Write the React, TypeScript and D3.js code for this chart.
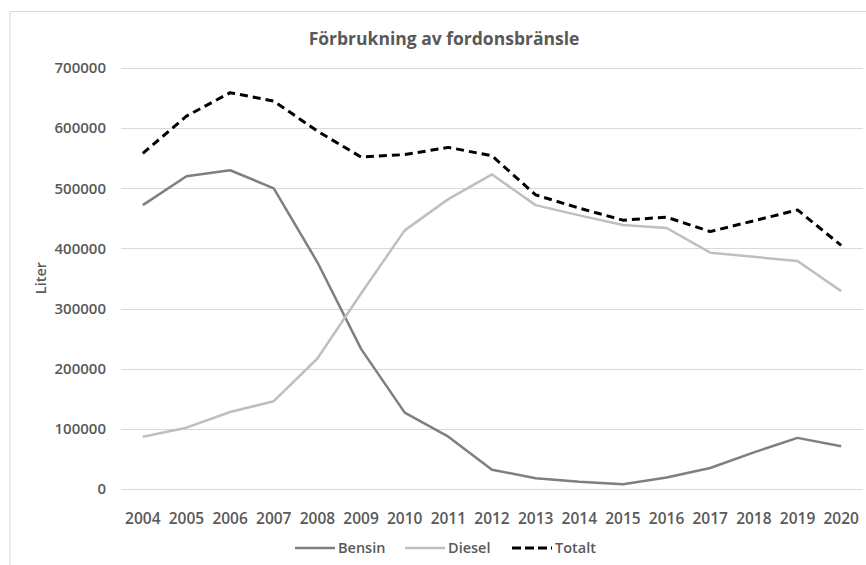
import React from 'react';
import * as d3 from 'd3';

const years = ['2004', '2005', '2006', '2007', '2008', '2009', '2010', '2011', '2012', '2013', '2014', '2015', '2016', '2017', '2018', '2019', '2020'];
const bensin = [472000, 520000, 530000, 500000, 377000, 233000, 127000, 87000, 32000, 18000, 12000, 8000, 19000, 35000, 61000, 85000, 71000];
const diesel = [87000, 102000, 128000, 146000, 217000, 325000, 430000, 482000, 523000, 472000, 455000, 439000, 434000, 393000, 386000, 379000, 329000];
const totalt = [558000, 620000, 659000, 645000, 595000, 552000, 556000, 568000, 554000, 489000, 467000, 447000, 452000, 428000, 446000, 464000, 405000];
const yTicks = [0, 100000, 200000, 300000, 400000, 500000, 600000, 700000];

const W = 866;
const H = 565;
const FONT = '"Open Sans", sans-serif';
const TEXT = '#595959';

const series = [
  { name: 'Bensin', values: bensin, color: '#7f7f7f', width: 2.5, dash: null },
  { name: 'Diesel', values: diesel, color: '#bfbfbf', width: 2.5, dash: null },
  { name: 'Totalt', values: totalt, color: '#000000', width: 3, dash: '8,5' },
];

export default function App() {
  const x = d3.scalePoint<string>().domain(years).range([121, 863]).padding(0.5);
  const y = d3.scaleLinear().domain([0, 700000]).range([489, 68]);

  const line = (vals: number[]) =>
    d3.line<number>()
      .x((_, i) => x(years[i]) as number)
      .y((d) => y(d))(vals) as string;

  const legendItems = [
    { s: series[0], x: 295 },
    { s: series[1], x: 405 },
    { s: series[2], x: 512 },
  ];

  return (
    <svg width={W} height={H} style={{ position: 'absolute', left: 0, top: 0, background: '#fff' }}>
      <rect x={0} y={0} width={W} height={H} fill="#fff" />
      {/* chart frame */}
      <path d={`M10,${H + 2}V11.5H${W + 2}`} fill="none" stroke="#d9d9d9" strokeWidth={1} />

      <text x={444} y={45} textAnchor="middle" fontFamily={FONT} fontWeight={700} fontSize={17.5} fill={TEXT}>
        Förbrukning av fordonsbränsle
      </text>

      {yTicks.map((t) => (
        <g key={t}>
          <line x1={121} x2={863} y1={Math.round(y(t)) + 0.5} y2={Math.round(y(t)) + 0.5} stroke="#d9d9d9" strokeWidth={1} />
          <text x={106} y={y(t)} dy="0.35em" textAnchor="end" fontFamily={FONT} fontWeight={600} fontSize={15} fill={TEXT}>
            {t}
          </text>
        </g>
      ))}

      <text transform="translate(46,278) rotate(-90)" textAnchor="middle" fontFamily={FONT} fontWeight={600} fontSize={14.5} fill={TEXT}>
        Liter
      </text>

      {years.map((yr) => (
        <text key={yr} x={x(yr)} y={519} dy="0.35em" textAnchor="middle" fontFamily={FONT} fontWeight={600} fontSize={15.5} fill={TEXT}>
          {yr}
        </text>
      ))}

      {series.map((s) => (
        <path
          key={s.name}
          d={line(s.values)}
          fill="none"
          stroke={s.color}
          strokeWidth={s.width}
          strokeDasharray={s.dash ?? undefined}
          strokeLinejoin="round"
        />
      ))}

      {legendItems.map(({ s, x: lx }) => (
        <g key={s.name}>
          <line x1={lx} x2={lx + 40} y1={548} y2={548} stroke={s.color} strokeWidth={s.width} strokeDasharray={s.dash ? '9,4' : undefined} />
          <text x={lx + 43} y={548} dy="0.35em" fontFamily={FONT} fontWeight={600} fontSize={14.5} fill={TEXT}>
            {s.name}
          </text>
        </g>
      ))}
    </svg>
  );
}
